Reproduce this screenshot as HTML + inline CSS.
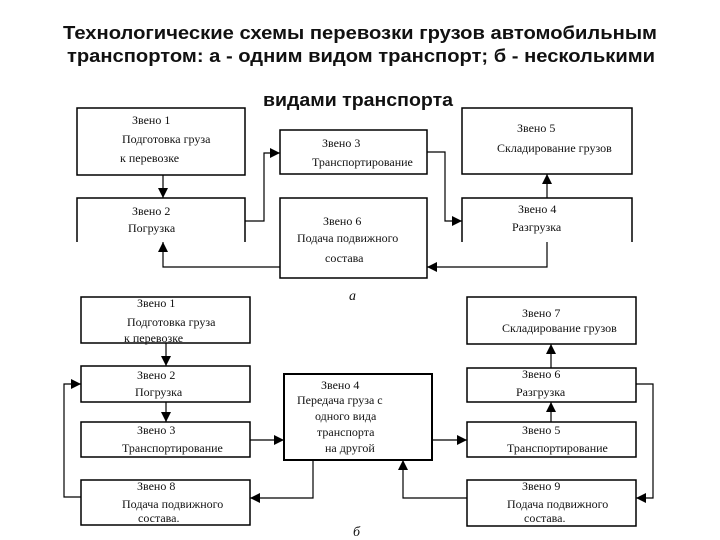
<!DOCTYPE html>
<html><head><meta charset="utf-8"><style>
html,body{margin:0;padding:0;background:#fff;}
svg{display:block;}
.t{font-family:"Liberation Sans",Arial,sans-serif;font-weight:bold;font-size:18px;fill:#111;}
.s{font-family:"Liberation Serif","Times New Roman",serif;font-size:12px;fill:#111;}
</style></head><body>
<svg width="720" height="540" viewBox="0 0 720 540" xmlns="http://www.w3.org/2000/svg">
<defs>
<marker id="a" markerWidth="10" markerHeight="10" refX="10" refY="5" orient="auto" markerUnits="userSpaceOnUse">
<path d="M0,0 L10,5 L0,10 z" fill="#000"/></marker>
</defs>
<text class="t" x="63" y="39" textLength="594" lengthAdjust="spacingAndGlyphs">Технологические схемы перевозки грузов автомобильным</text>
<text class="t" x="67" y="62" textLength="588" lengthAdjust="spacingAndGlyphs">транспортом: а - одним видом транспорт; б - несколькими</text>
<text class="t" x="263" y="106" textLength="190" lengthAdjust="spacingAndGlyphs">видами транспорта</text>

<g fill="none" stroke="#000" stroke-width="1.5">
<rect x="77" y="108" width="168" height="67" fill="#fff"/>
<path d="M77,242 V198 H245 V242"/>
<rect x="280" y="130" width="147" height="44"/>
<rect x="280" y="198" width="147" height="80"/>
<rect x="462" y="108" width="170" height="66"/>
<path d="M462,242 V198 H632 V242"/>
<rect x="81" y="297" width="169" height="46"/>
<rect x="81" y="366" width="169" height="36"/>
<rect x="81" y="422" width="169" height="35"/>
<rect x="81" y="480" width="169" height="45"/>
<rect x="284" y="374" width="148" height="86" stroke-width="2"/>
<rect x="467" y="297" width="169" height="47"/>
<rect x="467" y="368" width="169" height="34"/>
<rect x="467" y="422" width="169" height="35"/>
<rect x="467" y="480" width="169" height="46"/>
</g>

<g fill="none" stroke="#000" stroke-width="1.2" marker-end="url(#a)">
<path d="M163,175 V198"/>
<path d="M245,221 H264 V153 H280"/>
<path d="M427,152 H445 V221 H462"/>
<path d="M547,198 V174"/>
<path d="M547,242 V267 H427"/>
<path d="M280,267 H163 V242"/>
<path d="M166,343 V366"/>
<path d="M166,402 V422"/>
<path d="M250,440 H284"/>
<path d="M313,460 V498 H250"/>
<path d="M81,497 H64 V384 H81"/>
<path d="M432,440 H467"/>
<path d="M551,422 V402"/>
<path d="M551,368 V344"/>
<path d="M636,384 H653 V498 H636"/>
<path d="M467,498 H403 V460"/>
</g>

<g class="s">
<text x="132" y="124">Звено 1</text>
<text x="122" y="143">Подготовка груза</text>
<text x="120" y="162">к перевозке</text>
<text x="132" y="215">Звено 2</text>
<text x="128" y="232">Погрузка</text>
<text x="322" y="147">Звено 3</text>
<text x="312" y="166">Транспортирование</text>
<text x="323" y="225">Звено 6</text>
<text x="297" y="242">Подача подвижного</text>
<text x="325" y="262">состава</text>
<text x="517" y="132">Звено 5</text>
<text x="497" y="152">Складирование грузов</text>
<text x="518" y="213">Звено 4</text>
<text x="512" y="231">Разгрузка</text>

<text x="349" y="300" font-style="italic" font-size="14">а</text>

<text x="137" y="307">Звено 1</text>
<text x="127" y="326">Подготовка груза</text>
<text x="124" y="342">к перевозке</text>
<text x="137" y="379">Звено 2</text>
<text x="135" y="396">Погрузка</text>
<text x="137" y="434">Звено 3</text>
<text x="122" y="452">Транспортирование</text>
<text x="137" y="490">Звено 8</text>
<text x="122" y="508">Подача подвижного</text>
<text x="138" y="522">состава.</text>
<text x="321" y="389">Звено 4</text>
<text x="297" y="404">Передача груза с</text>
<text x="315" y="420">одного вида</text>
<text x="317" y="436">транспорта</text>
<text x="325" y="452">на другой</text>
<text x="522" y="317">Звено 7</text>
<text x="502" y="332">Складирование грузов</text>
<text x="522" y="378">Звено 6</text>
<text x="516" y="396">Разгрузка</text>
<text x="522" y="434">Звено 5</text>
<text x="507" y="452">Транспортирование</text>
<text x="522" y="490">Звено 9</text>
<text x="507" y="508">Подача подвижного</text>
<text x="524" y="522">состава.</text>

<text x="353" y="536" font-style="italic" font-size="14">б</text>
</g>
</svg>
</body></html>
